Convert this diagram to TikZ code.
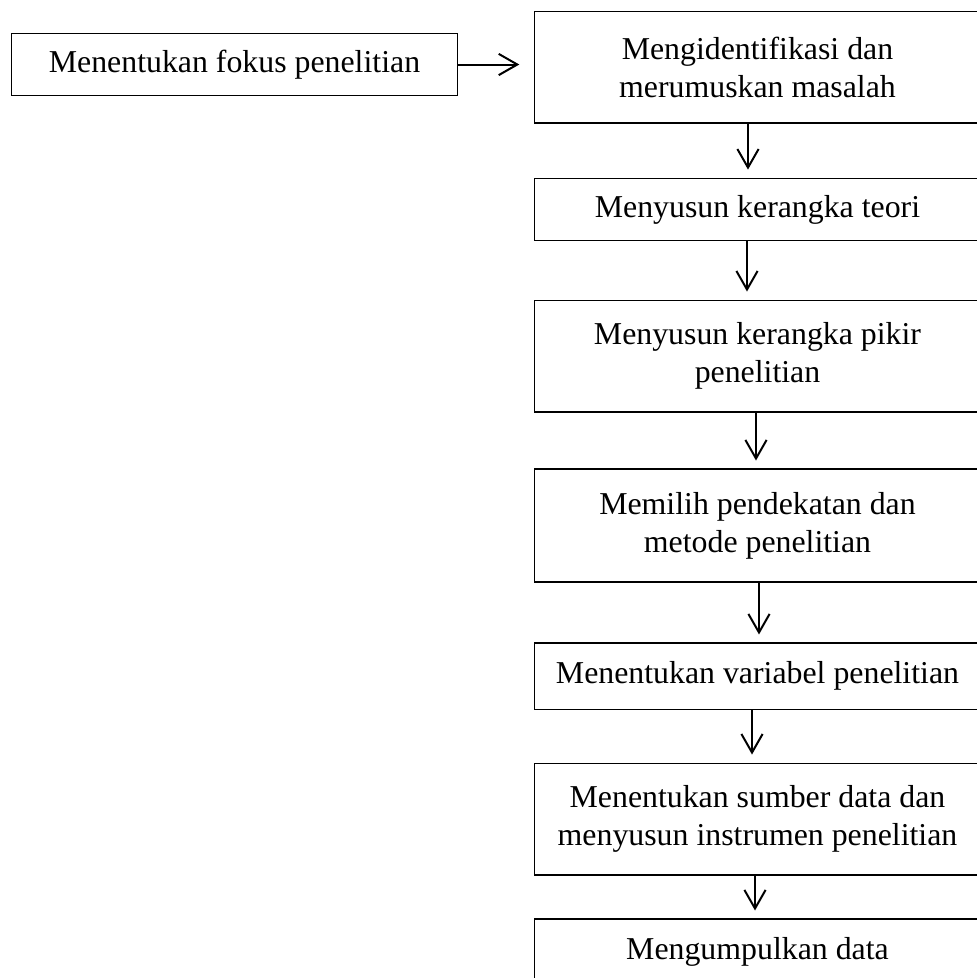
\documentclass[tikz,border=0pt]{standalone}
\usepackage{fontspec}
\setmainfont{Liberation Serif}
\usetikzlibrary{arrows.meta}
\begin{document}
\begin{tikzpicture}[
		x=0.377pt, y=-0.377pt,
		box/.style={rectangle, draw, align=center, inner sep=0pt,
				font=\fontsize{12}{14.3}\selectfont, minimum width=167.8pt},
		arr/.style={-{Straight Barb[length=7pt,width=8pt]}, line width=0.75pt, shorten >=3pt}
	]
	\useasboundingbox (0,0) rectangle (977,978);
	\node[box, minimum height=23.7pt] (fokus) at (234.5,64.5) {Menentukan fokus penelitian};
	\node[box, minimum height=42.2pt] (masalah) at (757.5,67) {Mengidentifikasi dan\\merumuskan masalah};
	\node[box, minimum height=23.7pt] (teori) at (757.5,209.5) {Menyusun kerangka teori};
	\node[box, minimum height=42.2pt] (pikir) at (757.5,356) {Menyusun kerangka pikir\\penelitian};
	\node[box, minimum height=42.6pt] (metode) at (757.5,525.5) {Memilih pendekatan dan\\metode penelitian};
	\node[box, minimum height=24.9pt] (variabel) at (757.5,676) {Menentukan variabel penelitian};
	\node[box, minimum height=42.2pt] (sumber) at (757.5,819) {Menentukan sumber data dan\\menyusun instrumen penelitian};
	\node[box, minimum height=24.9pt] (data) at (757.5,952) {Mengumpulkan data};
	\draw[arr, shorten >=5.7pt] (fokus.east) -- (fokus.east -| masalah.west);
	\foreach \a/\b/\s in {masalah/teori/-9.5, teori/pikir/-10.5, pikir/metode/-1.5,
			metode/variabel/1.5, variabel/sumber/-5.5, sumber/data/-2.5}
		\draw[arr] ([xshift=\s*0.377pt]\a.south) -- ([xshift=\s*0.377pt]\b.north);
\end{tikzpicture}
\end{document}
